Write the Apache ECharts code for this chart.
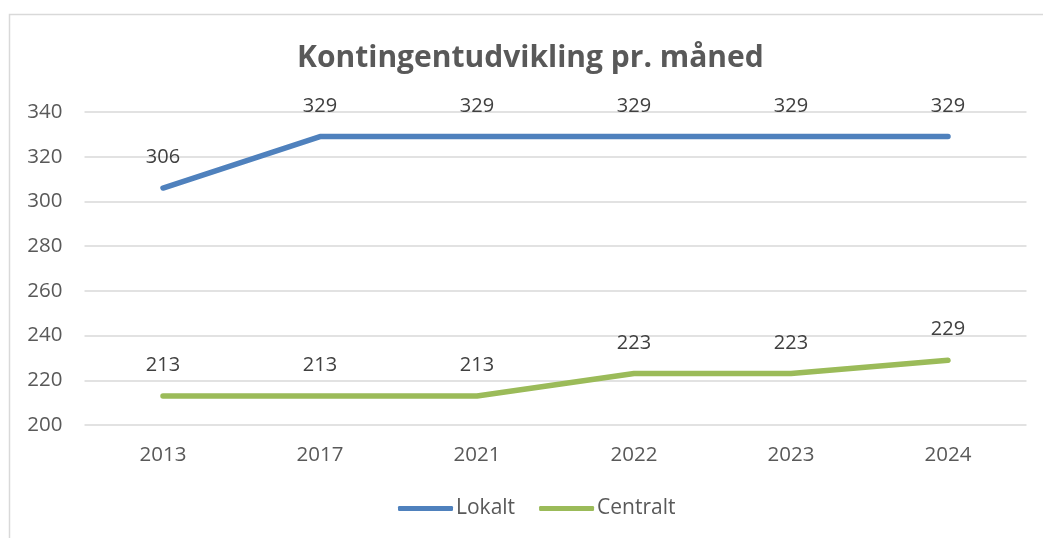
<!DOCTYPE html>
<html><head><meta charset="utf-8">
<script src="https://cdn.jsdelivr.net/npm/echarts@6/dist/echarts.min.js"></script>
<style>html,body{margin:0;padding:0;background:#fff}#c{width:1043px;height:538px}</style>
</head><body><div id="c"></div>
<script>
const categories = ['2013','2017','2021','2022','2023','2024'];
const lokalt = [306,329,329,329,329,329];
const centralt = [213,213,213,223,223,229];
const titleText = 'Kontingentudvikling pr. måned';
const FONT = '"Open Sans", sans-serif';
const chart = echarts.init(document.getElementById('c'));
const lbl = {show:true, position:'top', distance:20, color:'#404040', fontSize:20, fontFamily:FONT};
chart.setOption({
  animation:false,
  graphic:[{type:'rect', shape:{x:9.5,y:14.5,width:1200,height:700}, style:{fill:'none', stroke:'#d9d9d9', lineWidth:1.5}, silent:true}],
  title:{text:titleText, left:292, top:38, textStyle:{fontFamily:FONT, fontSize:30, fontWeight:'bold', color:'#595959'}},
  grid:{left:84.5, right:16.5, top:112, bottom:113},
  legend:{bottom:14, left:393, itemWidth:55, itemHeight:5, itemGap:24, icon:'roundRect',
    textStyle:{fontFamily:FONT, fontSize:21, color:'#595959', padding:[0,0,0,-2]},
    data:['Lokalt','Centralt']},
  xAxis:{type:'category', data:categories, boundaryGap:true,
    axisLine:{show:false}, axisTick:{show:false},
    axisLabel:{color:'#595959', fontSize:20.5, fontFamily:FONT, margin:20}},
  yAxis:{type:'value', min:200, max:340, interval:20,
    axisLine:{show:false}, axisTick:{show:false},
    axisLabel:{color:'#595959', fontSize:20.5, fontFamily:FONT, margin:22},
    splitLine:{lineStyle:{color:'#d9d9d9', width:1.5}}},
  series:[
    {name:'Lokalt', type:'line', data:lokalt, symbol:'circle', symbolSize:1, showSymbol:true, lineStyle:{width:5.5, color:'#4f81bd', cap:'round'}, itemStyle:{color:'#4f81bd'}, label:lbl},
    {name:'Centralt', type:'line', data:centralt, symbol:'circle', symbolSize:1, showSymbol:true, lineStyle:{width:5.5, color:'#9bbb59', cap:'round'}, itemStyle:{color:'#9bbb59'}, label:lbl}
  ]
});
</script></body></html>
